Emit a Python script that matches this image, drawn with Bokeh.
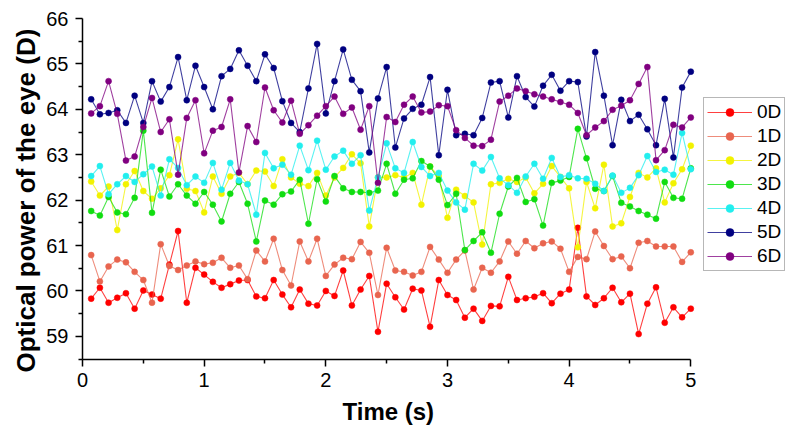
from bokeh.plotting import figure
from bokeh.models import Legend, LegendItem, Range1d, FixedTicker, ColumnDataSource, Title
from bokeh.embed import file_html
from bokeh.resources import INLINE

# sample times (s): 14 samples per second
TIME = [round(k / 14, 4) for k in range(1, 71)]

LABELS = ["0D", "1D", "2D", "3D", "4D", "5D", "6D"]

D0 = [59.83, 60.07, 59.74, 59.85, 59.95, 59.61, 60.01, 59.92, 59.83, 60.58,
      61.32, 59.74, 60.51, 60.36, 60.20, 60.07, 60.15, 60.23, 60.24, 59.88,
      59.84, 60.24, 59.92, 59.64, 60.03, 59.72, 59.68, 60.00, 59.89, 60.45,
      59.68, 60.03, 60.33, 59.10, 60.16, 59.86, 59.59, 60.05, 60.01, 59.21,
      60.24, 59.91, 59.80, 59.41, 59.61, 59.34, 59.67, 59.66, 60.31, 59.80,
      59.84, 59.87, 59.95, 59.73, 59.94, 60.03, 61.39, 59.88, 59.69, 59.84,
      60.07, 59.75, 59.94, 59.05, 59.72, 60.08, 59.30, 59.64, 59.42, 59.61]
D1 = [60.79, 60.21, 60.54, 60.69, 60.63, 60.42, 60.24, 59.74, 61.03, 60.55,
      60.46, 60.56, 60.65, 60.59, 60.62, 60.73, 60.51, 60.56, 60.26, 60.89,
      60.65, 61.15, 60.46, 60.12, 61.09, 60.65, 61.15, 60.33, 60.58, 60.73,
      60.70, 61.08, 60.84, 59.91, 60.95, 60.45, 60.42, 60.34, 60.42, 60.97,
      60.69, 60.40, 60.69, 60.89, 60.03, 60.51, 60.40, 60.65, 61.09, 60.82,
      61.10, 60.94, 61.05, 61.09, 60.93, 60.42, 60.75, 60.70, 61.31, 60.99,
      60.70, 60.76, 60.50, 61.06, 61.10, 60.98, 60.98, 60.98, 60.64, 60.85]
D2 = [62.41, 62.10, 62.30, 61.34, 62.35, 62.64, 62.20, 62.03, 62.26, 62.55,
      63.34, 62.25, 62.20, 61.73, 62.52, 62.14, 62.52, 62.60, 62.35, 62.65,
      62.63, 62.31, 62.90, 62.50, 62.36, 62.31, 62.60, 62.10, 62.50, 62.71,
      63.01, 62.81, 61.42, 62.50, 62.50, 62.55, 62.50, 62.60, 61.90, 62.74,
      62.53, 61.61, 62.23, 62.09, 61.95, 61.02, 62.35, 62.38, 62.47, 62.40,
      62.50, 62.15, 62.36, 62.75, 62.51, 62.26, 60.96, 62.40, 61.82, 62.78,
      61.42, 61.49, 62.07, 62.60, 62.50, 62.70, 61.95, 62.37, 62.68, 63.20]
D3 = [61.76, 61.66, 62.07, 61.73, 61.69, 62.05, 63.53, 61.72, 62.67, 62.08,
      62.35, 62.10, 61.92, 62.18, 61.90, 61.53, 62.14, 62.40, 61.92, 61.09,
      61.99, 61.90, 62.13, 62.19, 62.45, 61.48, 62.46, 61.97, 62.53, 62.26,
      62.18, 62.18, 62.16, 62.21, 62.80, 62.14, 62.45, 62.48, 62.86, 62.74,
      62.45, 61.89, 62.14, 60.90, 61.10, 61.29, 60.84, 61.70, 62.30, 62.49,
      61.96, 62.02, 61.44, 62.38, 62.43, 62.51, 63.57, 62.92, 62.25, 62.20,
      62.53, 61.94, 61.86, 61.76, 61.68, 61.59, 62.40, 62.05, 62.03, 62.70]
D4 = [62.53, 62.75, 62.13, 62.35, 62.53, 62.40, 62.57, 62.74, 62.10, 62.90,
      62.71, 62.33, 62.52, 62.38, 62.82, 62.23, 62.82, 62.43, 62.35, 61.68,
      63.04, 62.70, 62.78, 62.56, 63.20, 62.66, 63.31, 62.67, 62.96, 63.09,
      62.80, 62.99, 61.77, 62.50, 63.25, 62.70, 62.60, 63.28, 62.73, 62.53,
      62.60, 62.21, 61.95, 61.79, 62.80, 62.65, 62.95, 62.48, 62.33, 62.16,
      62.52, 62.80, 62.47, 62.93, 62.51, 62.55, 62.48, 62.47, 62.36, 62.20,
      62.54, 62.16, 62.27, 62.55, 62.97, 62.62, 62.67, 62.56, 63.48, 62.68]
D5 = [64.22, 63.89, 63.92, 63.98, 63.70, 64.30, 63.70, 64.62, 64.17, 64.49,
      65.15, 64.20, 64.96, 64.49, 64.00, 64.73, 64.89, 65.30, 64.96, 64.62,
      65.21, 64.91, 64.18, 63.70, 63.50, 64.46, 65.44, 63.91, 64.62, 65.32,
      64.65, 64.40, 63.05, 64.24, 64.93, 63.16, 63.80, 64.01, 64.10, 64.71,
      62.99, 64.43, 63.43, 63.46, 63.43, 63.81, 64.59, 64.62, 63.82, 64.73,
      64.27, 64.06, 64.52, 64.76, 64.41, 64.62, 64.60, 63.40, 65.26, 64.30,
      63.21, 64.21, 63.74, 63.88, 63.56, 63.21, 64.23, 62.94, 64.48, 64.83]
D6 = [63.91, 64.07, 64.62, 63.90, 62.87, 62.96, 63.61, 64.25, 63.50, 63.78,
      62.56, 63.81, 64.20, 63.03, 63.53, 63.61, 64.22, 62.61, 63.63, 63.28,
      64.48, 63.98, 63.71, 64.19, 63.46, 63.65, 63.86, 64.07, 64.28, 63.90,
      64.04, 63.55, 64.07, 62.38, 63.83, 63.72, 64.10, 64.28, 63.93, 63.95,
      64.09, 64.07, 63.54, 63.37, 63.20, 63.19, 63.33, 64.17, 64.30, 64.46,
      64.40, 64.33, 64.28, 64.22, 64.16, 64.10, 63.92, 63.43, 63.60, 63.74,
      63.99, 64.08, 64.20, 64.56, 64.93, 62.88, 63.10, 63.66, 63.60, 63.82]

SERIES = [D0, D1, D2, D3, D4, D5, D6]
COLORS = ["#FF0000", "#E8654F", "#F2F200", "#11DD11", "#22EEEE", "#000080", "#800080"]

X_TICKS = [0, 1, 2, 3, 4, 5]
X_MINOR = [0.5, 1.5, 2.5, 3.5, 4.5]
Y_TICKS = [59, 60, 61, 62, 63, 64, 65, 66]
Y_MINOR = [58.5, 59.5, 60.5, 61.5, 62.5, 63.5, 64.5, 65.5]

FONT = "Liberation Sans"

# frame runs past x=5 to leave room for the legend; the axis line stops at 5
p = figure(width=792, height=443, output_backend="svg", toolbar_location=None,
           x_range=Range1d(0, 5.836), y_range=Range1d(58.49, 66),
           min_border_left=82, min_border_right=0, min_border_top=18,
           min_border_bottom=84)
p.xgrid.visible = False
p.ygrid.visible = False
p.outline_line_color = None
p.background_fill_color = "white"

items = []
for lab, vals, col in zip(LABELS, SERIES, COLORS):
    src = ColumnDataSource(dict(t=TIME, v=vals))
    lr = p.line("t", "v", source=src, line_color=col, line_width=1.1, line_alpha=0.75)
    sr = p.scatter("t", "v", source=src, size=6, fill_color=col, line_color=col,
                   line_width=0.5)
    items.append(LegendItem(label=lab, renderers=[lr, sr]))

p.xaxis.ticker = FixedTicker(ticks=X_TICKS, minor_ticks=X_MINOR)
p.yaxis.ticker = FixedTicker(ticks=Y_TICKS, minor_ticks=Y_MINOR)
p.xaxis.bounds = (0, 5)
for ax in (p.xaxis[0], p.yaxis[0]):
    ax.axis_line_width = 1.5
    ax.axis_line_color = "black"
    ax.major_tick_line_color = "black"
    ax.minor_tick_line_color = "black"
    ax.major_tick_line_width = 1.5
    ax.minor_tick_line_width = 1.5
    ax.major_tick_in = 0
    ax.major_tick_out = 7
    ax.minor_tick_in = 0
    ax.minor_tick_out = 4
    ax.major_label_text_font = FONT
    ax.major_label_text_font_size = "20px"
    ax.major_label_text_color = "black"

p.xaxis.major_label_standoff = 6
p.yaxis.major_label_standoff = 7

# axis titles as side titles so they can be placed like the original
ytitle = Title(text="Optical power of the eye (D)", align="left", offset=-13,
               standoff=6, text_font=FONT, text_font_size="26px",
               text_font_style="bold", text_color="black")
p.add_layout(ytitle, "left")

xtitle = Title(text="Time (s)", align="left", offset=260, standoff=12,
               text_font=FONT, text_font_size="24px", text_font_style="bold",
               text_color="black")
p.add_layout(xtitle, "below")

legend = Legend(items=items, location=(621, 88), orientation="vertical",
                border_line_color="#707070", border_line_width=1.5,
                background_fill_color="white", background_fill_alpha=1.0,
                padding=3, spacing=2, margin=0, label_height=20, glyph_height=20,
                glyph_width=45, label_standoff=5,
                label_text_font=FONT, label_text_font_size="19px",
                label_text_color="black")
p.add_layout(legend, "center")

open("out.html", "w").write(file_html(p, INLINE))
